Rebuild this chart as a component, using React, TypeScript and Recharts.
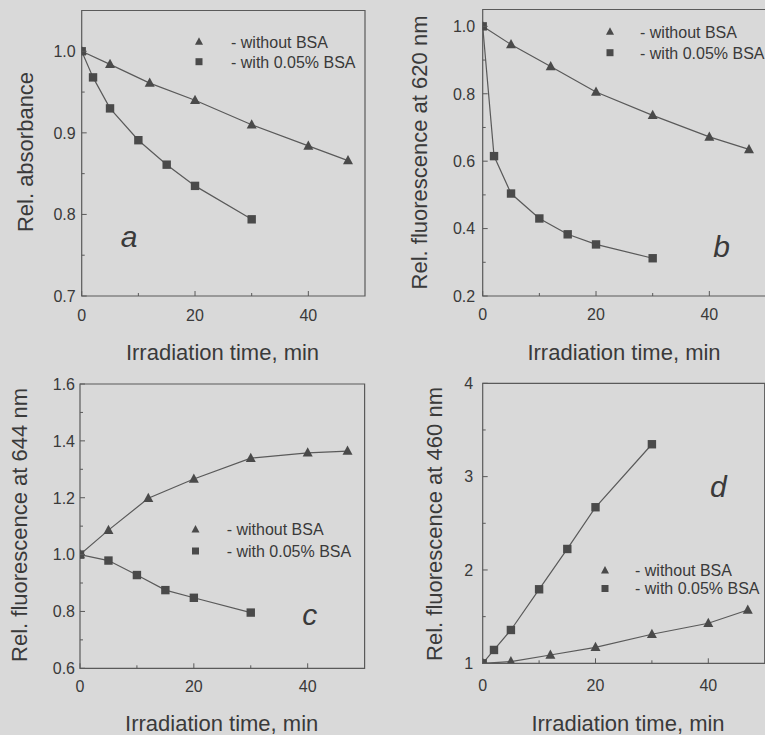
import React from 'react';
import { LineChart, Line, XAxis, YAxis, ReferenceArea, Legend } from 'recharts';

const FONT = '"Liberation Sans", Arial, Helvetica, sans-serif';
const BG = '#d9d9d9';
const INK = '#3a3a3a';
const STROKE = '#5a5a5a';
const MARK = '#4a4a4a';

// ---------- data ----------
const timesWithout = [0, 5, 12, 20, 30, 40, 47];
const timesWith = [0, 2, 5, 10, 15, 20, 30];
const timesWithC = [0, 5, 10, 15, 20, 30];

const absWithout = [1.0, 0.984, 0.961, 0.94, 0.91, 0.884, 0.866];
const absWith = [1.0, 0.968, 0.93, 0.891, 0.861, 0.835, 0.794];

const fl620Without = [1.0, 0.946, 0.881, 0.805, 0.736, 0.672, 0.635];
const fl620With = [1.0, 0.615, 0.504, 0.43, 0.383, 0.353, 0.312];

const fl644Without = [1.0, 1.086, 1.198, 1.266, 1.339, 1.358, 1.364];
const fl644With = [1.0, 0.979, 0.928, 0.875, 0.848, 0.796];

const fl460Without = [1.0, 1.018, 1.089, 1.171, 1.311, 1.429, 1.571];
const fl460With = [1.0, 1.143, 1.357, 1.793, 2.225, 2.672, 3.347];

const xTicks = [0, 10, 20, 30, 40];
const xMajor = [0, 20, 40];
const xTitle = 'Irradiation time, min';
const legendLabels = ['- without BSA', '- with 0.05% BSA'];
const panelLetters = ['a', 'b', 'c', 'd'];
const yTitles = [
  'Rel. absorbance',
  'Rel. fluorescence at 620 nm',
  'Rel. fluorescence at 644 nm',
  'Rel. fluorescence at 460 nm',
];
const yDomains: [number, number][] = [
  [0.7, 1.05],
  [0.2, 1.05],
  [0.6, 1.6],
  [1, 4],
];
const yMajors = [
  [0.7, 0.8, 0.9, 1.0],
  [0.2, 0.4, 0.6, 0.8, 1.0],
  [0.6, 0.8, 1.0, 1.2, 1.4, 1.6],
  [1, 2, 3, 4],
];
const yMinors = [
  [0.75, 0.85, 0.95],
  [0.3, 0.5, 0.7, 0.9],
  [0.7, 0.9, 1.1, 1.3, 1.5],
  [1.5, 2.5, 3.5],
];
const yDecimals = [1, 1, 1, 0];

const toPts = (ts: number[], vs: number[]) => ts.map((t, i) => ({ t, v: vs[i] }));

const seriesWithout = [
  toPts(timesWithout, absWithout),
  toPts(timesWithout, fl620Without),
  toPts(timesWithout, fl644Without),
  toPts(timesWithout, fl460Without),
];
const seriesWith = [
  toPts(timesWith, absWith),
  toPts(timesWith, fl620With),
  toPts(timesWithC, fl644With),
  toPts(timesWith, fl460With),
];

// ---------- layout ----------
const layouts = [
  {
    left: 0, top: 0, w: 390, h: 370,
    pl: 81.7, pt: 10.5, pr: 365, pb: 296,
    yTitleX: 32.5, yTitleY: 152, xTitleX: 222.5, xTitleY: 359.5,
    xTickDy: 24.5, yTickGap: 6,
    lg: { mx: 199, y1: 41.7, y2: 61.7, tx: 231 },
    letter: { x: 120.7, y: 247.3 },
  },
  {
    left: 380, top: 0, w: 390, h: 370,
    pl: 102.7, pt: 9.5, pr: 386, pb: 296,
    yTitleX: 46.5, yTitleY: 152.5, xTitleX: 244, xTitleY: 360,
    xTickDy: 24, yTickGap: 7.5,
    lg: { mx: 230, y1: 31.7, y2: 52.7, tx: 260 },
    letter: { x: 333.3, y: 256.7 },
  },
  {
    left: 0, top: 360, w: 390, h: 375,
    pl: 80, pt: 24, pr: 364.6, pb: 308.3,
    yTitleX: 26.5, yTitleY: 165, xTitleX: 221.7, xTitleY: 371,
    xTickDy: 24, yTickGap: 5,
    lg: { mx: 195.5, y1: 169.5, y2: 191, tx: 226.7 },
    letter: { x: 302.3, y: 265 },
  },
  {
    left: 380, top: 360, w: 390, h: 375,
    pl: 102.7, pt: 23.3, pr: 384.7, pb: 303.3,
    yTitleX: 62, yTitleY: 164, xTitleX: 248, xTitleY: 371,
    xTickDy: 27.5, yTickGap: 9.5,
    lg: { mx: 225, y1: 210.5, y2: 228.5, tx: 255 },
    letter: { x: 330, y: 136.7 },
  },
];

const Tri = ({ cx, cy, s = 5 }: any) => (
  <polygon
    points={`${cx},${cy - s * 1.1} ${cx - s},${cy + s * 0.75} ${cx + s},${cy + s * 0.75}`}
    fill={MARK}
  />
);
const Sq = ({ cx, cy, s = 4.2 }: any) => (
  <rect x={cx - s} y={cy - s} width={2 * s} height={2 * s} fill={MARK} />
);

const Panel = ({ idx }: { idx: number }) => {
  const L = layouts[idx];
  const [ymin, ymax] = yDomains[idx];
  const majors = yMajors[idx];
  const yTicks = [...majors, ...yMinors[idx]].sort((a, b) => a - b);
  const dec = yDecimals[idx];

  const xTick = (p: any) => {
    const { x, y, payload, index } = p;
    const v = payload.value;
    const major = xMajor.includes(v);
    return (
      <g key={`xt${index}`}>
        <line x1={x} x2={x} y1={y} y2={y - (major ? 5 : 3)} stroke={STROKE} strokeWidth={1} />
        {major && (
          <text x={x} y={y + L.xTickDy} textAnchor="middle" fontSize={16} fill={INK} fontFamily={FONT}>
            {v}
          </text>
        )}
      </g>
    );
  };

  const yTick = (p: any) => {
    const { x, y, payload, index } = p;
    const v = payload.value;
    const major = majors.some((m) => Math.abs(m - v) < 1e-9);
    return (
      <g key={`yt${index}`}>
        <line x1={x} x2={x + (major ? 5 : 3)} y1={y} y2={y} stroke={STROKE} strokeWidth={1} />
        {major && (
          <text x={x - L.yTickGap} y={y + 5.8} textAnchor="end" fontSize={16} fill={INK} fontFamily={FONT}>
            {v.toFixed(dec)}
          </text>
        )}
      </g>
    );
  };

  const legendContent = () => (
    <svg width={L.w} height={L.h} style={{ position: 'absolute', left: 0, top: 0, overflow: 'visible' }}>
      <Tri cx={L.lg.mx} cy={L.lg.y1} s={4} />
      <Sq cx={L.lg.mx} cy={L.lg.y2} s={3.5} />
      <text x={L.lg.tx} y={L.lg.y1 + 5.8} fontSize={16} fill={INK} fontFamily={FONT}>
        {legendLabels[0]}
      </text>
      <text x={L.lg.tx} y={L.lg.y2 + 5.8} fontSize={16} fill={INK} fontFamily={FONT}>
        {legendLabels[1]}
      </text>
      <text x={L.letter.x} y={L.letter.y} fontSize={30} fontStyle="italic" fill={INK} fontFamily={FONT}>
        {panelLetters[idx]}
      </text>
    </svg>
  );

  return (
    <div style={{ position: 'absolute', left: L.left, top: L.top, width: L.w, height: L.h }}>
      <LineChart
        width={L.w}
        height={L.h}
        margin={{ top: L.pt, right: L.w - L.pr, left: 0, bottom: 0 }}
      >
        <XAxis
          type="number"
          dataKey="t"
          domain={[0, 50]}
          ticks={xTicks}
          interval={0}
          height={L.h - L.pb}
          tickSize={0}
          tickMargin={0}
          tickLine={false}
          axisLine={false}
          tick={xTick}
          allowDataOverflow
          label={() => (
            <text x={L.xTitleX} y={L.xTitleY} textAnchor="middle" fontSize={22} fill={INK} fontFamily={FONT}>
              {xTitle}
            </text>
          )}
        />
        <YAxis
          type="number"
          dataKey="v"
          domain={[ymin, ymax]}
          ticks={yTicks}
          interval={0}
          width={L.pl}
          tickSize={0}
          tickMargin={0}
          tickLine={false}
          axisLine={false}
          tick={yTick}
          allowDataOverflow
          label={() => (
            <text
              x={L.yTitleX}
              y={L.yTitleY}
              textAnchor="middle"
              fontSize={22}
              fill={INK}
              fontFamily={FONT}
              transform={`rotate(-90 ${L.yTitleX} ${L.yTitleY})`}
            >
              {yTitles[idx]}
            </text>
          )}
        />
        <ReferenceArea
          x1={0}
          x2={50}
          y1={ymin}
          y2={ymax}
          fill="none"
          fillOpacity={0}
          stroke={STROKE}
          strokeWidth={1.2}
          ifOverflow="visible"
        />
        <Line
          data={seriesWithout[idx]}
          dataKey="v"
          name={legendLabels[0]}
          stroke={STROKE}
          strokeWidth={1.2}
          isAnimationActive={false}
          dot={(p: any) => <Tri key={`a${p.index}`} cx={p.cx} cy={p.cy} />}
          activeDot={false}
        />
        <Line
          data={seriesWith[idx]}
          dataKey="v"
          name={legendLabels[1]}
          stroke={STROKE}
          strokeWidth={1.2}
          isAnimationActive={false}
          dot={(p: any) => <Sq key={`b${p.index}`} cx={p.cx} cy={p.cy} />}
          activeDot={false}
        />
        <Legend
          layout="vertical"
          align="center"
          verticalAlign="middle"
          content={legendContent}
          wrapperStyle={{ left: 0, top: 0, width: L.w, height: L.h, pointerEvents: 'none' }}
        />
      </LineChart>
    </div>
  );
}

export default function App() {
  return (
    <div
      style={{
        position: 'absolute',
        left: 0,
        top: 0,
        width: 765,
        height: 735,
        overflow: 'hidden',
        background: BG,
        fontFamily: FONT,
      }}
    >
      {[0, 1, 2, 3].map((i) => (
        <Panel key={i} idx={i} />
      ))}
    </div>
  );
}
